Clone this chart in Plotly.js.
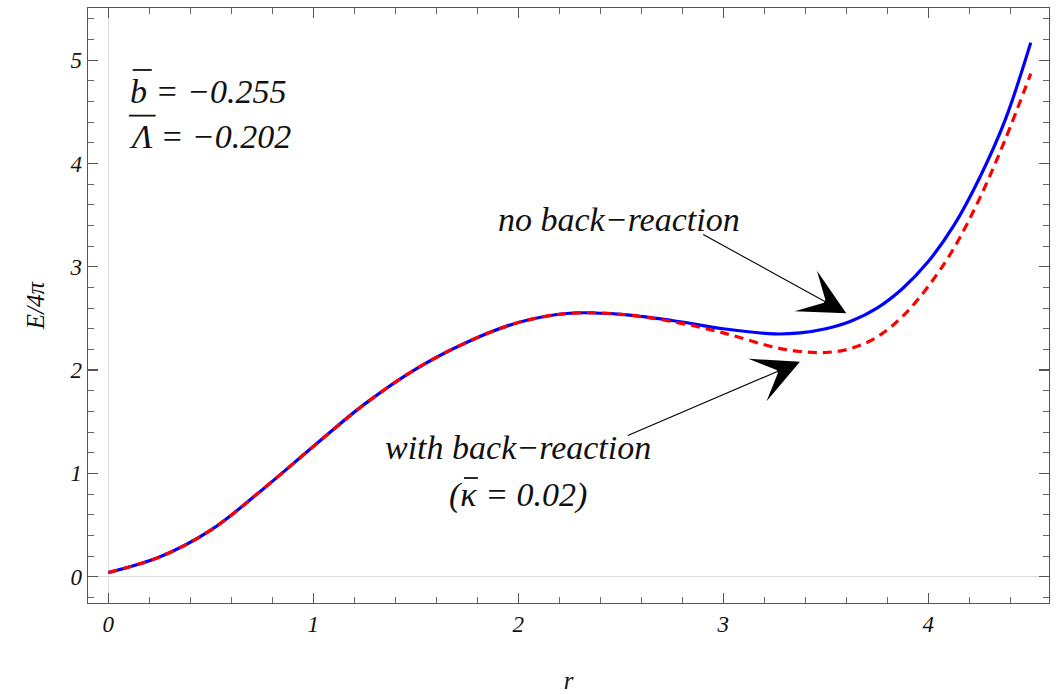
<!DOCTYPE html>
<html>
<head>
<meta charset="utf-8">
<script src="https://cdn.plot.ly/plotly-3.0.1.min.js"></script>
<style>html,body{margin:0;padding:0;background:#fff;}#chart{width:1061px;height:694px;}</style>
</head>
<body>
<div id="chart"></div>
<script>
// r values
const r = [0, 0.25, 0.5, 0.75, 1.0, 1.25, 1.5, 1.75, 2.0, 2.25, 2.5, 2.75, 3.0, 3.25, 3.375, 3.5, 3.625, 3.75, 3.875, 4.0, 4.125, 4.25, 4.375, 4.5];
// E/4pi without back-reaction (blue)
const noBack = [0.04, 0.19, 0.45, 0.84, 1.26, 1.67, 2.01, 2.27, 2.46, 2.55, 2.54, 2.48, 2.40, 2.35, 2.36, 2.40, 2.475, 2.60, 2.79, 3.05, 3.40, 3.86, 4.42, 5.17];
// E/4pi with back-reaction (red dashed)
const withBack = [0.04, 0.19, 0.45, 0.84, 1.26, 1.67, 2.01, 2.27, 2.46, 2.55, 2.54, 2.47, 2.36, 2.22, 2.18, 2.17, 2.21, 2.32, 2.52, 2.81, 3.18, 3.66, 4.23, 4.87];
const xTicks = [0, 1, 2, 3, 4];
const yTicks = [0, 1, 2, 3, 4, 5];

const serif = 'Liberation Serif, Times New Roman, serif';

const traces = [
  {x: r, y: noBack, mode: 'lines', line: {color: '#0000ff', width: 3.2, shape: 'spline', smoothing: 1}, hoverinfo: 'skip'},
  {x: r, y: withBack, mode: 'lines', line: {color: '#ff0000', width: 3.2, dash: '9px,6px', shape: 'spline', smoothing: 1}, hoverinfo: 'skip'}
];

const tf = {family: serif, size: 23, color: '#111', style: 'italic'};
const axBase = {
  showgrid: false, zeroline: true, zerolinecolor: '#dddddd', zerolinewidth: 1.2,
  showline: true, linecolor: '#555', linewidth: 1.3, mirror: 'ticks',
  ticks: 'inside', ticklen: 10, tickwidth: 1.2, tickcolor: '#555',
  minor: {ticks: 'inside', ticklen: 6, tickwidth: 1, tickcolor: '#666', dtick: 0.2},
  tickfont: tf
};

const annFont = {family: serif, size: 34, color: '#111', style: 'italic'};
const annotations = [
  {x: 0.096, y: 4.70, xref: 'x', yref: 'y', text: 'b = \u22120.255', showarrow: false, xanchor: 'left', yanchor: 'middle', font: annFont},
  {x: 0.090, y: 4.26, xref: 'x', yref: 'y', text: '\u039B = \u22120.202', showarrow: false, xanchor: 'left', yanchor: 'middle', font: annFont},
  {x: 2.49, y: 3.46, xref: 'x', yref: 'y', text: 'no back\u2212reaction', showarrow: false, xanchor: 'center', yanchor: 'middle', font: annFont},
  {x: 2.0, y: 1.25, xref: 'x', yref: 'y', text: 'with back\u2212reaction', showarrow: false, xanchor: 'center', yanchor: 'middle', font: annFont},
  {x: 2.0, y: 0.79, xref: 'x', yref: 'y', text: '(\u03BA = 0.02)', showarrow: false, xanchor: 'center', yanchor: 'middle', font: annFont},
  {x: 3.60, y: 2.55, xref: 'x', yref: 'y', ax: 2.895, ay: 3.32, axref: 'x', ayref: 'y', text: '', showarrow: true,
   arrowhead: 3, arrowsize: 7, arrowwidth: 1.1, arrowcolor: '#000', standoff: 0},
  {x: 3.374, y: 2.08, xref: 'x', yref: 'y', ax: 2.527, ay: 1.36, axref: 'x', ayref: 'y', text: '', showarrow: true,
   arrowhead: 3, arrowsize: 7, arrowwidth: 1.1, arrowcolor: '#000', standoff: 0}
];

// overbars on b, Lambda, kappa (text decoration)
const bar = (x0, x1, y) => ({type: 'line', xref: 'x', yref: 'y', x0: x0, x1: x1, y0: y, y1: y, line: {color: '#111', width: 1.8}});
const shapes = [bar(0.119, 0.212, 4.905), bar(0.101, 0.231, 4.463), bar(1.735, 1.803, 0.955)];

const layout = {
  width: 1061, height: 694,
  margin: {l: 88, r: 12, t: 8, b: 91},
  paper_bgcolor: '#fff', plot_bgcolor: '#fff',
  showlegend: false,
  xaxis: Object.assign({}, axBase, {range: [-0.099, 4.589], tickvals: xTicks, ticktext: xTicks.map(String),
    title: {text: 'r', font: {family: serif, size: 25, color: '#111', style: 'italic'}, standoff: 37}}),
  yaxis: Object.assign({}, axBase, {range: [-0.255, 5.505], tickvals: yTicks, ticktext: yTicks.map(String),
    title: {text: 'E/4\u03C0', font: {family: serif, size: 25, color: '#111', style: 'italic'}, standoff: 17}}),
  annotations: annotations,
  shapes: shapes
};

Plotly.newPlot('chart', traces, layout, {displayModeBar: false, staticPlot: true});
</script>
</body>
</html>
